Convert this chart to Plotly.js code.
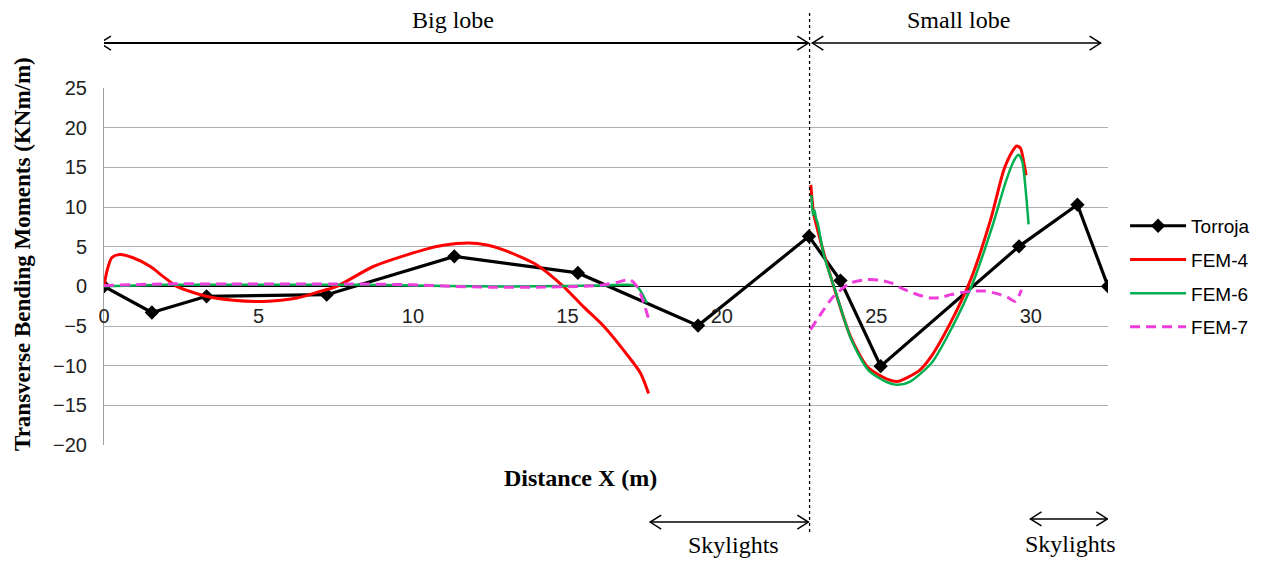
<!DOCTYPE html>
<html>
<head>
<meta charset="utf-8">
<script src="https://cdn.plot.ly/plotly-3.0.1.min.js"></script>
<style>html,body{margin:0;padding:0;background:#fff;}#chart{width:1267px;height:565px;}</style>
</head>
<body>
<div id="chart"></div>
<script>
// ---- Data ----
const torrojaX = [0, 1.55, 3.32, 7.21, 11.34, 15.34, 19.23, 22.82, 23.84, 25.14, 29.62, 31.51, 32.5];
const torrojaY = [0, -3.3, -1.26, -1.05, 3.78, 1.69, -4.95, 6.3, 0.72, -10.07, 5.04, 10.29, 0];

const fem4X = [0, 0.1, 0.25, 0.5, 0.94, 1.5, 1.91, 2.35, 3.32, 4.18, 5.15, 6.24, 7.0, 7.54, 8.72, 10.34, 10.99, 11.8, 12.4, 12.93, 14.01, 14.87, 15.5, 16.17, 16.93, 17.36, 17.63,
  null,
  22.88, 22.92, 22.97, 23.3, 23.62, 24.16, 24.70, 25.24, 25.67, 26.0, 26.4, 26.75, 27.40, 28.05, 28.70, 29.13, 29.4, 29.54, 29.67, 29.78, 29.85];
const fem4Y = [0, 2.0, 3.6, 4.0, 3.6, 2.5, 1.26, 0, -1.26, -1.76, -1.9, -1.47, -0.63, 0, 2.5, 4.6, 5.17, 5.46, 5.2, 4.6, 2.7, 0, -2.5, -5.0, -8.6, -10.9, -13.5,
  null,
  12.8, 11.0, 9.2, 4.2, 0, -6.3, -10.1, -11.5, -12.0, -11.5, -10.6, -9.0, -4.6, 0.8, 8.4, 14.7, 17.0, 17.7, 17.4, 15.5, 14.0];

const fem6X = [0, 2, 4, 6, 8, 10, 12, 14, 16, 16.9, 17.25, 17.57,
  null,
  22.9, 22.95, 23.0, 23.05, 23.1, 23.3, 23.65, 24.2, 24.75, 25.3, 25.7, 26.1, 26.8, 27.45, 28.1, 28.75, 29.2, 29.45, 29.6, 29.72, 29.85, 29.93];
const fem6Y = [0, 0.2, 0.2, 0.2, 0.2, 0.1, 0, 0, 0.1, 0.2, 0, -2.1,
  null,
  11.5, 9.0, 9.6, 8.5, 8.0, 4.0, -0.3, -6.8, -10.6, -12.0, -12.4, -12.0, -9.6, -5.2, 0.2, 7.5, 13.3, 15.8, 16.6, 15.8, 11.5, 7.8];

const fem7X = [0, 2, 4, 6, 8, 10, 11.3, 12.5, 14, 15.5, 16.2, 16.6, 17.03, 17.25, 17.36, 17.52, 17.63,
  null,
  22.87, 23.2, 23.62, 24.16, 24.70, 25.14, 25.5, 25.79, 26.3, 26.75, 27.1, 27.40, 28.05, 28.5, 28.91, 29.25, 29.50, 29.70];
const fem7Y = [0.1, 0.3, 0.3, 0.3, 0.3, 0.2, 0, -0.1, -0.1, 0, 0.2, 0.5, 0.84, 0, -0.84, -2.7, -4.1,
  null,
  -5.45, -3.5, -1.26, 0.42, 0.84, 0.76, 0.4, -0.2, -1.0, -1.46, -1.4, -1.05, -0.63, -0.6, -0.92, -1.4, -1.9, -0.42];

const xTicks = [0, 5, 10, 15, 20, 25, 30];
const yTicks = [-20, -15, -10, -5, 0, 5, 10, 15, 20, 25];
const lobeDivide = 22.84;          // dashed separator
const bigLobe = [-0.13, 22.8];
const smallLobe = [22.93, 32.26];
const skylights1 = [17.68, 22.8];
const skylights2 = [29.99, 32.48];

const serif = 'Liberation Serif, Times New Roman, serif';
const sans = 'Liberation Sans, Arial, sans-serif';

const traces = [
  {x: torrojaX, y: torrojaY, name: 'Torroja', mode: 'lines+markers', legendgroup: 'a',
   line: {color: '#000000', width: 3.2}, marker: {symbol: 'diamond', size: 11, color: '#000000'}},
  {x: fem4X, y: fem4Y, name: 'FEM-4', mode: 'lines', legendgroup: 'b', connectgaps: false,
   line: {color: '#ff0000', width: 3, shape: 'spline', smoothing: 0.7}},
  {x: fem6X, y: fem6Y, name: 'FEM-6', mode: 'lines', legendgroup: 'c', connectgaps: false,
   line: {color: '#00b050', width: 2.5, shape: 'spline', smoothing: 0.7}},
  {x: fem7X, y: fem7Y, name: 'FEM-7', mode: 'lines', legendgroup: 'd', connectgaps: false,
   line: {color: '#ee3ddb', width: 3, dash: '10px,6px', shape: 'spline', smoothing: 0.7}}
];

// double-headed open arrow built from a line plus two V heads
function dblArrow(x0, x1, y, w) {
  const ln = {color: '#000000', width: w};
  return [
    {type: 'line', xref: 'x', yref: 'paper', x0: x0, x1: x1, y0: y, y1: y, line: ln},
    {type: 'path', xref: 'x', yref: 'paper', xsizemode: 'pixel', ysizemode: 'pixel', xanchor: x0, yanchor: y,
     path: 'M 11,7 L 0,0 L 11,-7', line: {color: '#000000', width: 1.5}},
    {type: 'path', xref: 'x', yref: 'paper', xsizemode: 'pixel', ysizemode: 'pixel', xanchor: x1, yanchor: y,
     path: 'M -11,7 L 0,0 L -11,-7', line: {color: '#000000', width: 1.5}}
  ];
}

const layout = {
  width: 1267, height: 565,
  margin: {l: 104, r: 159, t: 88, b: 120, pad: 0},
  paper_bgcolor: '#ffffff', plot_bgcolor: '#ffffff',
  showlegend: true,
  legend: {x: 1.017, xanchor: 'left', y: 0.667, yanchor: 'top', font: {family: sans, size: 19, color: '#000'},
    itemwidth: 56, tracegroupgap: 6, bgcolor: 'rgba(0,0,0,0)'},
  xaxis: {range: [0, 32.5], tickvals: xTicks, ticktext: xTicks.map(String), showgrid: false, zeroline: false,
    showline: false, anchor: 'free', position: 20/45, ticks: '', ticklabelstandoff: 16,
    tickfont: {family: sans, size: 20, color: '#222'}},
  yaxis: {range: [-20, 25], tickvals: yTicks, showgrid: true, gridcolor: '#b0b0b0', gridwidth: 1,
    zeroline: true, zerolinecolor: '#000000', zerolinewidth: 1.5, showline: true, linecolor: '#a0a0a0', linewidth: 1,
    ticks: '', ticklabelstandoff: 12, tickfont: {family: sans, size: 20, color: '#222'}},
  shapes: [
    {type: 'line', xref: 'x', yref: 'paper', x0: lobeDivide, x1: lobeDivide, y0: -0.2437, y1: 1.21,
     line: {color: '#000', width: 1.3, dash: '3px,3px'}}
  ].concat(
    dblArrow(bigLobe[0], bigLobe[1], 1.126, 2),
    dblArrow(smallLobe[0], smallLobe[1], 1.126, 1.5),
    dblArrow(skylights1[0], skylights1[1], -0.216, 1.5),
    dblArrow(skylights2[0], skylights2[1], -0.207, 1.5)
  ),
  annotations: [
    {x: 11.3, y: 1.19, xref: 'x', yref: 'paper', yanchor: 'middle', xanchor: 'center', text: 'Big lobe', showarrow: false, font: {family: serif, size: 24, color: '#000'}},
    {x: 27.66, y: 1.19, xref: 'x', yref: 'paper', yanchor: 'middle', xanchor: 'center', text: 'Small lobe', showarrow: false, font: {family: serif, size: 24, color: '#000'}},
    {x: 20.37, y: -0.28, xref: 'x', yref: 'paper', yanchor: 'middle', xanchor: 'center', text: 'Skylights', showarrow: false, font: {family: serif, size: 24, color: '#000'}},
    {x: 31.28, y: -0.277, xref: 'x', yref: 'paper', yanchor: 'middle', xanchor: 'center', text: 'Skylights', showarrow: false, font: {family: serif, size: 24, color: '#000'}},
    {x: 0.475, y: -0.0924, xref: 'paper', yref: 'paper', yanchor: 'middle', xanchor: 'center', text: '<b>Distance X (m)</b>', showarrow: false, font: {family: serif, size: 24, color: '#000'}},
    {x: -0.0817, y: 0.535, xref: 'paper', yref: 'paper', yanchor: 'middle', xanchor: 'center', text: '<b>Transverse Bending Moments (KNm/m)</b>', textangle: -90, showarrow: false, font: {family: serif, size: 23, color: '#000'}}
  ]
};

Plotly.newPlot('chart', traces, layout, {displayModeBar: false, staticPlot: true});
</script>
</body>
</html>
